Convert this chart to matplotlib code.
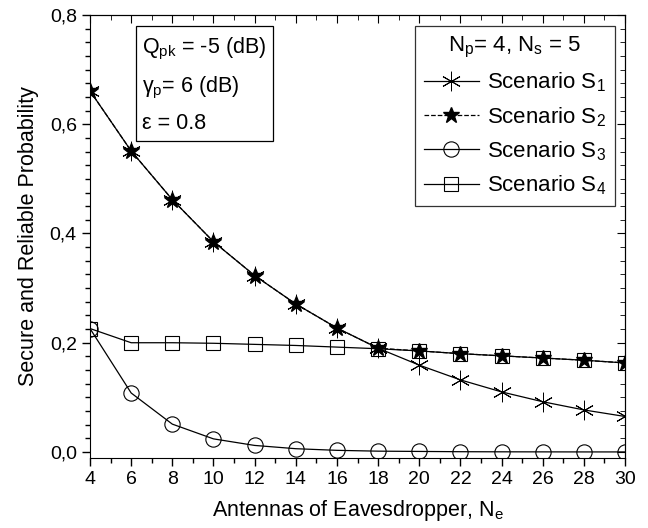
import numpy as np
import matplotlib
matplotlib.use("Agg")
import matplotlib.pyplot as plt
from matplotlib.ticker import MultipleLocator, FuncFormatter

plt.rcParams['font.family'] = ['Liberation Sans', 'DejaVu Sans']
plt.rcParams['mathtext.fontset'] = 'custom'
plt.rcParams['mathtext.rm'] = 'Liberation Sans'
plt.rcParams['mathtext.it'] = 'Liberation Sans:italic'

# data
ne = np.array([4, 6, 8, 10, 12, 14, 16, 18, 20, 22, 24, 26, 28, 30])
s1 = np.array([0.661, 0.551, 0.462, 0.385, 0.323, 0.271, 0.227, 0.190,
               0.159, 0.132, 0.110, 0.092, 0.077, 0.065])
s2 = np.array([0.661, 0.551, 0.462, 0.385, 0.323, 0.271, 0.227, 0.190,
               0.185, 0.180, 0.176, 0.172, 0.168, 0.163])
s3 = np.array([0.226, 0.108, 0.051, 0.024, 0.012, 0.006, 0.003, 0.0015,
               0.001, 0.0005, 0.0003, 0.0002, 0.0001, 0.0001])
s4 = np.array([0.226, 0.200, 0.200, 0.199, 0.197, 0.195, 0.192, 0.189,
               0.185, 0.180, 0.176, 0.172, 0.168, 0.163])

fig = plt.figure(figsize=(6.48, 5.28), dpi=100)
ax = fig.add_axes([0.1389, 0.1326, 0.8256, 0.839])

ax.plot(ne, s1, '-', color='k', lw=0.9, marker=(6, 2, 0), ms=14, mew=0.7,
        label='Scenario S$_\\mathregular{1}$')
ax.plot(ne, s2, '--', color='k', lw=0.9, marker='*', ms=12, mfc='k',
        label='Scenario S$_\\mathregular{2}$')
ax.plot(ne, s3, '-', color='k', lw=0.9, marker='o', ms=11, mfc='none',
        mew=0.8, label='Scenario S$_\\mathregular{3}$')
ax.plot(ne, s4, '-', color='k', lw=0.9, marker='s', ms=10, mfc='none',
        mew=0.8, label='Scenario S$_\\mathregular{4}$')

ax.set_xlim(4, 30)
ax.set_ylim(-0.011, 0.8)
ax.xaxis.set_major_locator(MultipleLocator(2))
ax.xaxis.set_minor_locator(MultipleLocator(1))
ax.yaxis.set_major_locator(MultipleLocator(0.2))
ax.yaxis.set_minor_locator(MultipleLocator(0.025))
ax.yaxis.set_major_formatter(FuncFormatter(lambda v, p: ('%.1f' % v).replace('.', ',')))

ax.tick_params(which='both', direction='out', labelsize=14, width=1)
ax.tick_params(which='major', length=6)
ax.tick_params(which='minor', length=3.5)
# top and right ticks point inward
sx = ax.secondary_xaxis('top')
sx.xaxis.set_major_locator(MultipleLocator(2))
sx.xaxis.set_minor_locator(MultipleLocator(1))
sx.tick_params(which='both', direction='in', labeltop=False)
sx.tick_params(which='major', length=6)
sx.tick_params(which='minor', length=3.5)
sy = ax.secondary_yaxis('right')
sy.yaxis.set_major_locator(MultipleLocator(0.2))
sy.yaxis.set_minor_locator(MultipleLocator(0.025))
sy.tick_params(which='both', direction='in', labelright=False)
sy.tick_params(which='major', length=6)
sy.tick_params(which='minor', length=3.5)

ax.set_xlabel('Antennas of Eavesdropper, N$_\\mathregular{e}$', fontsize=15.5, labelpad=7)
ax.set_ylabel('Secure and Reliable Probability', fontsize=15.5, labelpad=8)

leg = ax.legend(loc='upper right', bbox_to_anchor=(0.9815, 0.975), fontsize=16,
                title='N$_\\mathregular{p}$= 4, N$_\\mathregular{s}$ = 5',
                title_fontsize=16, frameon=True, fancybox=False,
                edgecolor='k', handlelength=2.5, labelspacing=0.48,
                borderpad=0.4, handletextpad=0.35, borderaxespad=0)
leg.get_frame().set_linewidth(0.9)

ax.text(0.098, 0.952,
        'Q$_\\mathregular{pk}$ = -5 (dB)\n\nγ$_\\mathregular{p}$= 6 (dB)\n\nε = 0.8',
        transform=ax.transAxes, fontsize=15.5, va='top', ha='left',
        linespacing=0.74,
        bbox=dict(boxstyle='square,pad=0.3', fc='white', ec='k', lw=0.9))

fig.savefig('out.png', dpi=100)
